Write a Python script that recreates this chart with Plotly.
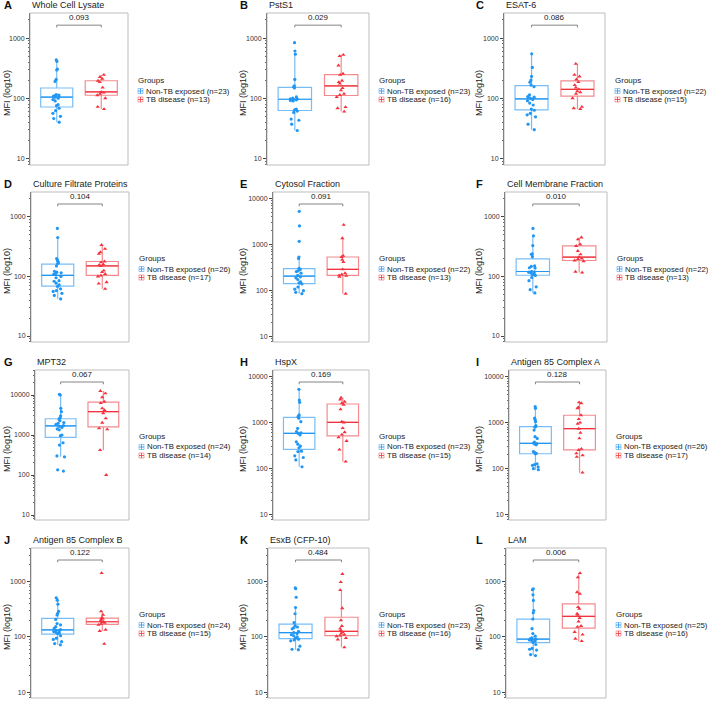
import numpy as np
import plotly.graph_objects as go

# 패널 정보
letters = ["A", "B", "C", "D", "E", "F", "G", "H", "I", "J", "K", "L"]
antigens = ["Whole Cell Lysate", "PstS1", "ESAT-6", "Culture Filtrate Proteins",
            "Cytosol Fraction", "Cell Membrane Fraction", "MPT32", "HspX",
            "Antigen 85 Complex A", "Antigen 85 Complex B", "EsxB (CFP-10)", "LAM"]
p_values = ["0.093", "0.029", "0.086", "0.104", "0.091", "0.010",
            "0.067", "0.169", "0.128", "0.122", "0.484", "0.006"]
group_names = ["Non-TB exposed", "TB disease"]

# MFI 값
wcl_non_tb = [40, 46, 50, 56, 62, 68, 75, 78, 90, 95, 100, 104, 106, 108, 110, 113, 115, 190, 205, 295, 305, 410, 435]
wcl_tb = [66, 72, 100, 112, 118, 124, 127, 150, 185, 195, 210, 225, 245]
psts1_non_tb = [29, 37, 43, 45, 58, 61, 64, 66, 90, 92, 94, 96, 97, 98, 100, 105, 148, 155, 160, 205, 540, 610, 840]
psts1_tb = [60, 68, 71, 105, 113, 118, 135, 147, 175, 185, 195, 245, 255, 350, 500, 527]
esat6_non_tb = [30, 37, 49, 53, 56, 63, 66, 77, 83, 91, 95, 100, 104, 106, 114, 155, 165, 185, 200, 230, 325, 548]
esat6_tb = [66, 68, 72, 100, 118, 125, 130, 140, 150, 165, 185, 205, 230, 245, 373]
cfp_non_tb = [42, 48, 52, 56, 58, 62, 68, 72, 77, 83, 85, 95, 100, 108, 110, 115, 118, 122, 150, 165, 170, 180, 190, 200, 450, 640]
cfp_tb = [62, 76, 80, 100, 104, 110, 118, 125, 150, 155, 160, 172, 178, 240, 255, 290, 337]
cytosol_non_tb = [86, 92, 100, 108, 120, 140, 148, 155, 175, 190, 200, 215, 240, 260, 270, 290, 305, 500, 540, 1180, 2550, 5300]
cytosol_tb = [86, 200, 210, 215, 225, 240, 290, 420, 470, 540, 570, 1380, 2700]
membrane_non_tb = [53, 60, 67, 85, 96, 104, 107, 111, 114, 118, 120, 122, 138, 140, 147, 150, 215, 235, 240, 330, 480, 640]
membrane_tb = [116, 120, 180, 185, 195, 200, 211, 235, 268, 325, 345, 420, 450]
mpt32_non_tb = [125, 135, 285, 300, 560, 640, 960, 1000, 1350, 1420, 1550, 1650, 1720, 1850, 1960, 2050, 2280, 2500, 2700, 2990, 3830, 4650, 10000, 10400]
mpt32_tb = [100, 420, 1380, 1470, 2030, 2610, 3500, 4200, 4650, 6300, 6800, 8800, 11000, 12600]
hspx_non_tb = [110, 155, 175, 190, 235, 240, 285, 310, 340, 385, 540, 585, 600, 640, 750, 1050, 1250, 1350, 1400, 1470, 2770, 3100, 5300]
hspx_tb = [142, 260, 400, 480, 550, 620, 760, 1010, 1050, 1950, 2450, 2650, 2850, 3200, 3490]
ag85a_non_tb = [95, 100, 110, 118, 122, 128, 210, 215, 225, 235, 330, 345, 350, 360, 380, 455, 495, 690, 800, 830, 860, 1050, 1150, 1250, 2050, 2230]
ag85a_tb = [82, 180, 195, 215, 255, 270, 455, 600, 740, 950, 1000, 1200, 1450, 2050, 2160, 2650, 2770]
ag85b_non_tb = [72, 76, 82, 90, 95, 105, 115, 118, 121, 125, 128, 132, 136, 143, 153, 165, 174, 207, 250, 266, 290, 390, 460, 510]
ag85b_tb = [75, 128, 135, 165, 172, 180, 185, 188, 196, 207, 215, 222, 250, 290, 1420]
esxb_non_tb = [59, 60, 68, 85, 88, 91, 95, 100, 105, 110, 115, 120, 126, 140, 147, 151, 160, 182, 262, 340, 520, 740, 770]
esxb_tb = [65, 90, 95, 103, 106, 110, 115, 122, 130, 141, 158, 200, 330, 700, 975, 1370]
lam_non_tb = [46, 48, 58, 60, 62, 73, 79, 84, 87, 88, 89, 90, 91, 93, 96, 103, 115, 141, 210, 273, 300, 455, 575, 710, 738]
lam_tb = [84, 93, 110, 123, 152, 158, 190, 220, 250, 262, 323, 345, 600, 640, 1190, 1420]

groups = [(wcl_non_tb, wcl_tb), (psts1_non_tb, psts1_tb), (esat6_non_tb, esat6_tb),
          (cfp_non_tb, cfp_tb), (cytosol_non_tb, cytosol_tb), (membrane_non_tb, membrane_tb),
          (mpt32_non_tb, mpt32_tb), (hspx_non_tb, hspx_tb), (ag85a_non_tb, ag85a_tb),
          (ag85b_non_tb, ag85b_tb), (esxb_non_tb, esxb_tb), (lam_non_tb, lam_tb)]

# 레이아웃 (픽셀)
W, H = 708, 702
col_x = [0, 236, 472]
frame_left = [30, 267, 504, 31, 273, 505, 35, 273, 509, 31, 268, 506]
frame_right = [128, 369, 605, 129, 369, 607, 129, 369, 606, 129, 369, 606]
row_top = [13, 192, 370, 548]
row_bottom = [165, 342, 520, 698]
y_ranges = [(0.889, 3.417)] * 3 + [(0.9, 3.417), (0.884, 4.145), (0.9, 3.417)] + \
           [(0.875, 4.625), (0.884, 4.145), (0.884, 4.145)] + [(0.898, 3.605)] * 3

FONT = "Liberation Sans, Arial, sans-serif"
dark_colors = ["#2196F3", "#F2333D"]
light_colors = ["#79BDF6", "#F48A8E"]
symbols = ["circle", "triangle-up"]
minor_vals = [m * 10 ** k for k in range(0, 5) for m in range(2, 10)]


def px_x(x):
    return x / W


def px_y(y):
    return 1 - y / H


def box_stats(values):
    # ggplot 처럼 log 스케일에서 상자 통계 계산
    lv = np.log10(values)
    q1, med, q3 = np.percentile(lv, [25, 50, 75])
    iqr = q3 - q1
    lo = lv[lv >= q1 - 1.5 * iqr].min()
    hi = lv[lv <= q3 + 1.5 * iqr].max()
    return [10 ** v for v in (q1, med, q3, lo, hi)]


fig = go.Figure()
layout = dict(width=W, height=H, margin=dict(l=0, r=0, t=0, b=0),
              paper_bgcolor="white", plot_bgcolor="white", showlegend=False,
              boxmode="overlay", font=dict(family=FONT, color="#222"))
shapes, annotations = [], []

for i in range(12):
    r, c = divmod(i, 3)
    ax = "" if i == 0 else str(i + 1)
    xa, ya = "x" + ax, "y" + ax
    L, R, T, B = frame_left[i], frame_right[i], row_top[r], row_bottom[r]
    mid = (T + B) / 2

    for j in range(2):
        vals = groups[i][j]
        q1, med, q3, lo, hi = box_stats(vals)
        fig.add_trace(go.Box(x=[j], q1=[q1], median=[med], q3=[q3], lowerfence=[lo], upperfence=[hi],
                             width=0.72, whiskerwidth=0, boxpoints=False,
                             line=dict(color=light_colors[j], width=1.2),
                             fillcolor="rgba(255,255,255,0)", xaxis=xa, yaxis=ya, hoverinfo="skip"))
        fig.add_trace(go.Box(x=[j], q1=[med], median=[med], q3=[med], lowerfence=[med], upperfence=[med],
                             width=0.72, whiskerwidth=0, boxpoints=False,
                             line=dict(color=dark_colors[j], width=1.2),
                             fillcolor="rgba(255,255,255,0)", xaxis=xa, yaxis=ya, hoverinfo="skip"))
        fig.add_trace(go.Box(x=[j] * len(vals), y=vals, boxpoints="all", jitter=0.35, pointpos=0,
                             width=0.72, line=dict(color="rgba(0,0,0,0)", width=0),
                             fillcolor="rgba(0,0,0,0)",
                             marker=dict(color=dark_colors[j], size=3.2 if j == 0 else 3.8,
                                         symbol=symbols[j]),
                             name=group_names[j], xaxis=xa, yaxis=ya))

    layout["xaxis" + ax] = dict(domain=[px_x(L), px_x(R)], range=[-0.6, 1.6], showticklabels=False,
                                ticks="", showgrid=False, zeroline=False, showline=False,
                                anchor=ya)
    layout["yaxis" + ax] = dict(domain=[px_y(B), px_y(T)], type="log", range=list(y_ranges[i]),
                                tickmode="array", tickvals=[10, 100, 1000, 10000],
                                ticktext=["10", "100", "1000", "10000"],
                                ticks="outside", ticklen=3, tickwidth=1, tickcolor="#444",
                                tickfont=dict(size=7, color="#333"),
                                showline=True, linecolor="#444", linewidth=1,
                                showgrid=False, zeroline=False, anchor=xa,
                                minor=dict(ticks="outside", ticklen=1.5, tickcolor="#666",
                                           tickmode="array", tickvals=minor_vals))

    # 패널 테두리
    shapes.append(dict(type="rect", xref=xa + " domain", yref=ya + " domain", x0=0, x1=1, y0=0, y1=1,
                       line=dict(color="#BDBDBD", width=1)))
    # p-value 괄호
    for x0, x1, y0, y1 in [(0, 1, 0.92, 0.92), (0, 0, 0.92, 0.905), (1, 1, 0.92, 0.905)]:
        shapes.append(dict(type="line", xref=xa, yref=ya + " domain", x0=x0, x1=x1, y0=y0, y1=y1,
                           line=dict(color="#666", width=0.8)))
    annotations.append(dict(xref=xa, yref=ya + " domain", x=0.5, y=0.925, text=p_values[i],
                            showarrow=False, yanchor="bottom", font=dict(size=8, color="#222")))
    # 제목과 글자
    annotations.append(dict(xref="paper", yref="paper", x=px_x(col_x[c] + 2), y=px_y(T - 8),
                            text="<b>" + letters[i] + "</b>", showarrow=False, xanchor="left",
                            yanchor="middle", font=dict(size=11, color="#111")))
    annotations.append(dict(xref="paper", yref="paper", x=px_x(L), y=px_y(T - 8), text=antigens[i],
                            showarrow=False, xanchor="left", yanchor="middle",
                            font=dict(size=9, color="#222")))
    annotations.append(dict(xref="paper", yref="paper", x=px_x(col_x[c] + 7), y=px_y(mid + 4),
                            text="MFI (log10)", textangle=-90, showarrow=False,
                            xanchor="center", yanchor="middle", font=dict(size=9, color="#222")))
    # 범례
    annotations.append(dict(xref="paper", yref="paper", x=px_x(R + 8), y=px_y(mid - 9), text="Groups",
                            showarrow=False, xanchor="left", yanchor="middle",
                            font=dict(size=8, color="#222")))
    for j in range(2):
        yc = mid + 2 + 8.5 * j
        x0 = R + 10
        shapes.append(dict(type="rect", xref="paper", yref="paper", x0=px_x(x0), x1=px_x(x0 + 5),
                           y0=px_y(yc + 2.5), y1=px_y(yc - 2.5),
                           line=dict(color=light_colors[j], width=0.8)))
        shapes.append(dict(type="line", xref="paper", yref="paper", x0=px_x(x0), x1=px_x(x0 + 5),
                           y0=px_y(yc), y1=px_y(yc), line=dict(color=dark_colors[j], width=0.8)))
        shapes.append(dict(type="line", xref="paper", yref="paper", x0=px_x(x0 + 2.5), x1=px_x(x0 + 2.5),
                           y0=px_y(yc + 2.5), y1=px_y(yc - 2.5), line=dict(color=dark_colors[j], width=0.8)))
        annotations.append(dict(xref="paper", yref="paper", x=px_x(x0 + 6), y=px_y(yc),
                                text=f"{group_names[j]} (n={len(groups[i][j])})", showarrow=False,
                                xanchor="left", yanchor="middle", font=dict(size=7.8, color="#222")))

layout["shapes"] = shapes
layout["annotations"] = annotations
fig.update_layout(**layout)
# 페이지 여백 제거, 모드바 숨김
fig.write_html("out.html", config={"displayModeBar": False},
               post_script="document.body.style.margin='0';")
